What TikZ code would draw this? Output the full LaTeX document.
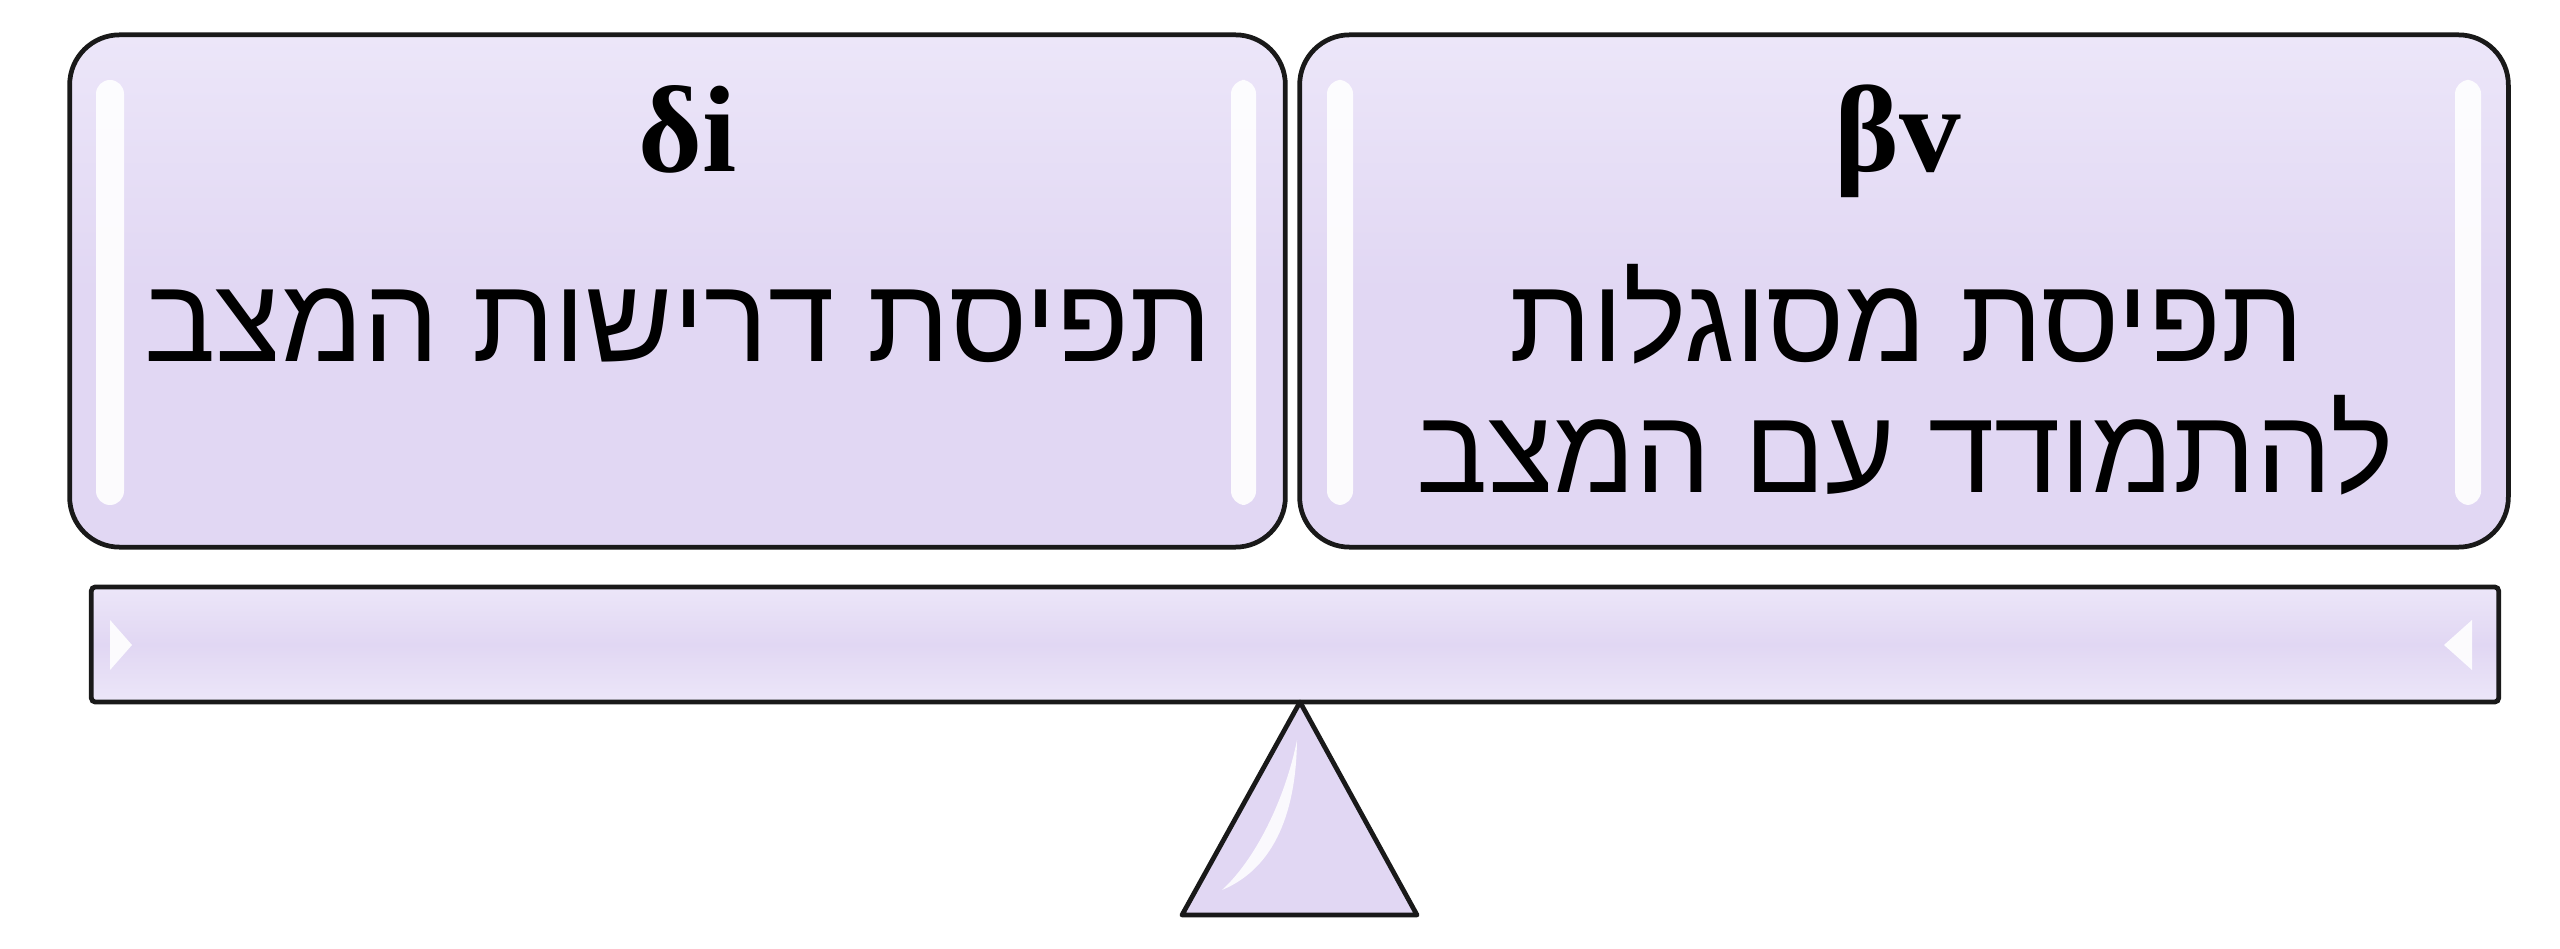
\documentclass[tikz,border=0pt]{standalone}
\usepackage{fontspec}
\setmainfont{Liberation Serif}
\newfontfamily\hebfont[Script=Hebrew]{Liberation Sans}
\newfontfamily\titlefont{Liberation Serif}
\TeXXeTstate=1
\definecolor{lav}{RGB}{225,215,243}
\definecolor{lavlight}{RGB}{236,230,249}
\tikzset{
  panel/.style={draw=black!90, line width=1.35pt, rounded corners=0.5cm, top color=lavlight, bottom color=lav, middle color=lav, shading angle=0},
  beamstyle/.style={draw=black!90, line width=1.35pt, rounded corners=0.04cm, top color=lavlight, bottom color=lavlight, middle color=lav},
  gloss/.style={fill=white, rounded corners=0.14cm, opacity=0.9},
  titletext/.style={font=\titlefont\bfseries\fontsize{35}{40}\selectfont, anchor=base, inner sep=0pt},
  hebtext/.style={font=\hebfont\fontsize{34}{37}\selectfont, anchor=base, inner sep=0pt, align=center}
}
\begin{document}
\begin{tikzpicture}[x=0.01cm, y=-0.01cm]
\useasboundingbox (0,0) rectangle (2560,949);
% panels
\node[panel, minimum width=12.15cm, minimum height=5.12cm, inner sep=0pt] (boxL) at (677.5,291) {};
\node[panel, minimum width=12.08cm, minimum height=5.12cm, inner sep=0pt] (boxR) at (1904,291) {};
% gloss highlights
\fill[gloss] (96,80) rectangle (124,505);
\fill[gloss] (1231,80) rectangle (1256,505);
\fill[gloss] (1327,80) rectangle (1353,505);
\fill[gloss] (2455,80) rectangle (2481,505);
% titles
\node[titletext] (tL) at (688,172) {δi};
\node[titletext] (tR) at (1898,172) {βv};
% hebrew texts
\node[hebtext] (hL) at (678,362) {\beginR תפיסת דרישות המצב\endR};
\node[hebtext] (hR1) at (1907,362) {\beginR תפיסת מסוגלות\endR};
\node[hebtext] (hR2) at (1905,492) {\beginR להתמודד עם המצב\endR};
% beam
\node[beamstyle, minimum width=24.06cm, minimum height=1.15cm, inner sep=0pt] (beam) at (1295,644.5) {};
\fill[white, opacity=0.9] (110,620) -- (132,645) -- (110,670) -- cycle;
\fill[white, opacity=0.9] (2472,620) -- (2444,645) -- (2472,670) -- cycle;
% fulcrum
\coordinate (apex) at (1300,702);
\coordinate (bl) at (1182,915);
\coordinate (br) at (1417,915);
\draw[draw=black!90, line width=1.35pt, line join=round, fill=lav] (apex) -- (br) -- (bl) -- cycle;
\fill[white, opacity=0.85] (1297,740) .. controls (1296,820) and (1270,870) .. (1222,890) .. controls (1255,860) and (1285,800) .. (1297,740) -- cycle;
\end{tikzpicture}
\end{document}
